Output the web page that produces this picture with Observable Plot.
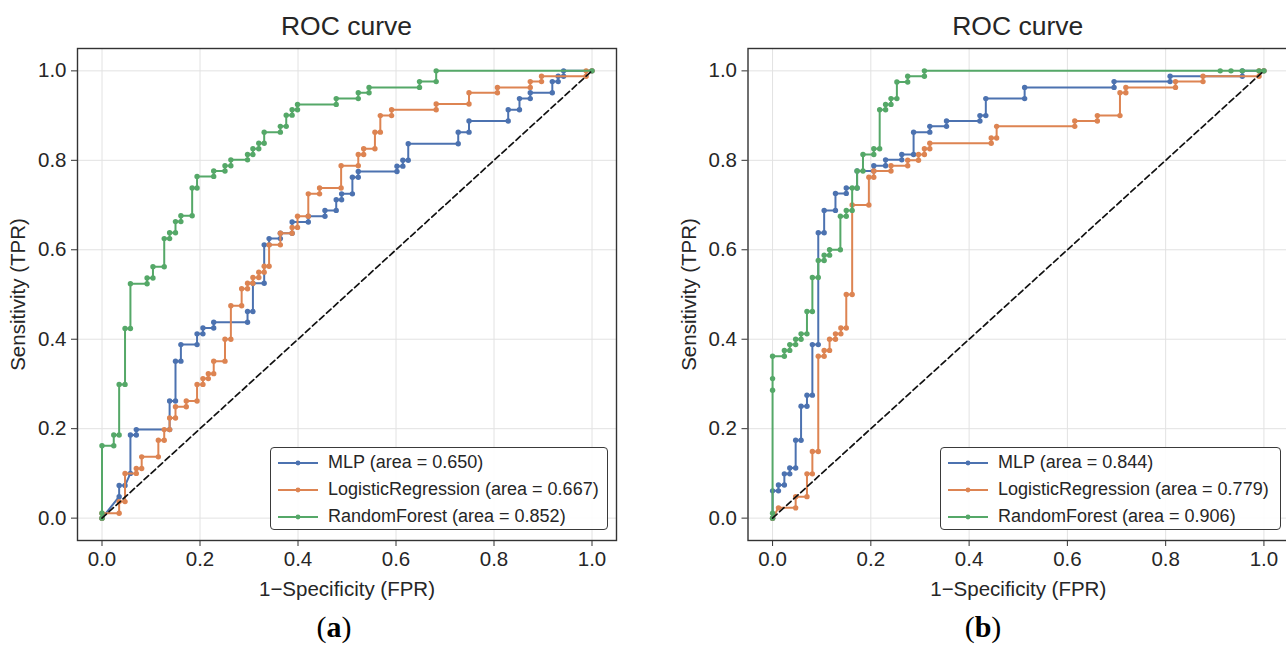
<!DOCTYPE html>
<html>
<head>
<meta charset="utf-8">
<script src="https://cdn.jsdelivr.net/npm/d3@7"></script>
<script src="https://cdn.jsdelivr.net/npm/@observablehq/plot@0.6"></script>
<style>
  html, body { margin: 0; padding: 0; background: #fff; overflow: hidden; }
  #root { position: relative; width: 1286px; height: 649px; overflow: hidden; font-family: "Liberation Sans", Arial, sans-serif; color: #262626; }
  .panel { position: absolute; top: 0; }
  .panel svg { max-width: none !important; }
  .title { position: absolute; top: 11px; font-size: 26.5px; text-align: center; width: 400px; color: #262626; }
  .caption { position: absolute; top: 610px; font-family: "Liberation Serif", "DejaVu Serif", serif; font-size: 30px; width: 100px; text-align: center; color: #000; }
  .caption b { font-weight: bold; }
  .legend { position: absolute; top: 447px; height: 81px; border: 1.5px solid #3a3a3a; border-radius: 4px; background: rgba(255,255,255,0.9); box-sizing: content-box; }
  .legend .row { position: absolute; left: 0; height: 27px; display: flex; align-items: center; font-size: 18px; white-space: nowrap; }
  .legend svg { margin-left: 7px; margin-right: 10px; }
</style>
</head>
<body>
<div id="root"></div>
<script>
// ---------- data ----------
const seriesNames = ["MLP", "LogisticRegression", "RandomForest"];
const seriesColors = ["#4C72B0", "#DD8452", "#55A868"];
const tickValues = [0, 0.2, 0.4, 0.6, 0.8, 1.0];
const chanceLine = [0, 1];
const panelTitles = ["ROC curve", "ROC curve"];
const panelCaptions = ["a", "b"];
const xLabel = "1\u2212Specificity (FPR)";
const yLabel = "Sensitivity (TPR)";
const aucA = ["0.650", "0.667", "0.852"];
const aucB = ["0.844", "0.779", "0.906"];

// Panel (a)
const mlpA_fpr = [0, 0.035, 0.035, 0.047, 0.058, 0.058, 0.070, 0.070, 0.138, 0.138, 0.150, 0.150, 0.161, 0.161, 0.194, 0.194, 0.206, 0.206, 0.228, 0.228, 0.297, 0.297, 0.308, 0.308, 0.331, 0.331, 0.341, 0.341, 0.364, 0.364, 0.388, 0.388, 0.421, 0.421, 0.455, 0.455, 0.478, 0.478, 0.489, 0.489, 0.511, 0.511, 0.523, 0.523, 0.602, 0.602, 0.614, 0.614, 0.625, 0.625, 0.727, 0.727, 0.749, 0.749, 0.829, 0.829, 0.852, 0.852, 0.874, 0.874, 0.919, 0.919, 0.931, 0.931, 0.942, 0.942, 1.0];
const mlpA_tpr = [0, 0.048, 0.073, 0.073, 0.100, 0.186, 0.186, 0.198, 0.198, 0.262, 0.262, 0.351, 0.351, 0.388, 0.388, 0.412, 0.412, 0.425, 0.425, 0.438, 0.438, 0.462, 0.462, 0.525, 0.525, 0.611, 0.611, 0.625, 0.625, 0.637, 0.637, 0.662, 0.662, 0.675, 0.675, 0.688, 0.688, 0.712, 0.712, 0.725, 0.725, 0.762, 0.762, 0.775, 0.775, 0.787, 0.787, 0.800, 0.800, 0.837, 0.837, 0.863, 0.863, 0.888, 0.888, 0.913, 0.913, 0.938, 0.938, 0.951, 0.951, 0.976, 0.976, 0.988, 0.988, 1.0, 1.0];

const lrA_fpr = [0, 0, 0.035, 0.035, 0.047, 0.047, 0.070, 0.070, 0.081, 0.081, 0.115, 0.115, 0.127, 0.127, 0.138, 0.138, 0.150, 0.150, 0.172, 0.172, 0.194, 0.194, 0.206, 0.206, 0.217, 0.217, 0.228, 0.228, 0.251, 0.251, 0.263, 0.263, 0.285, 0.285, 0.297, 0.297, 0.308, 0.308, 0.320, 0.320, 0.331, 0.331, 0.341, 0.341, 0.364, 0.364, 0.388, 0.388, 0.399, 0.399, 0.421, 0.421, 0.444, 0.444, 0.488, 0.488, 0.523, 0.523, 0.534, 0.534, 0.557, 0.557, 0.568, 0.568, 0.591, 0.591, 0.682, 0.682, 0.749, 0.749, 0.807, 0.807, 0.874, 0.874, 0.897, 0.897, 0.988, 0.988, 1.0];
const lrA_tpr = [0, 0.011, 0.011, 0.037, 0.037, 0.100, 0.100, 0.111, 0.111, 0.137, 0.137, 0.174, 0.174, 0.198, 0.198, 0.224, 0.224, 0.249, 0.249, 0.262, 0.262, 0.299, 0.299, 0.312, 0.312, 0.323, 0.323, 0.351, 0.351, 0.400, 0.400, 0.475, 0.475, 0.513, 0.513, 0.525, 0.525, 0.538, 0.538, 0.550, 0.550, 0.563, 0.563, 0.611, 0.611, 0.637, 0.637, 0.650, 0.650, 0.675, 0.675, 0.725, 0.725, 0.738, 0.738, 0.788, 0.788, 0.813, 0.813, 0.826, 0.826, 0.863, 0.863, 0.900, 0.900, 0.913, 0.913, 0.926, 0.926, 0.951, 0.951, 0.963, 0.963, 0.976, 0.976, 0.988, 0.988, 1.0, 1.0];

const rfA_fpr = [0, 0, 0, 0.024, 0.024, 0.035, 0.035, 0.047, 0.047, 0.058, 0.058, 0.092, 0.092, 0.104, 0.104, 0.127, 0.127, 0.138, 0.138, 0.150, 0.150, 0.161, 0.161, 0.184, 0.184, 0.194, 0.194, 0.228, 0.228, 0.251, 0.251, 0.263, 0.263, 0.297, 0.297, 0.308, 0.308, 0.320, 0.320, 0.331, 0.331, 0.364, 0.364, 0.376, 0.376, 0.388, 0.388, 0.399, 0.399, 0.478, 0.478, 0.523, 0.523, 0.545, 0.545, 0.648, 0.648, 0.682, 0.682, 1.0];
const rfA_tpr = [0, 0.011, 0.162, 0.162, 0.186, 0.186, 0.299, 0.299, 0.424, 0.424, 0.524, 0.524, 0.537, 0.537, 0.562, 0.562, 0.625, 0.625, 0.638, 0.638, 0.663, 0.663, 0.676, 0.676, 0.738, 0.738, 0.764, 0.764, 0.776, 0.776, 0.788, 0.788, 0.801, 0.801, 0.813, 0.813, 0.826, 0.826, 0.838, 0.838, 0.863, 0.863, 0.876, 0.876, 0.901, 0.901, 0.913, 0.913, 0.925, 0.925, 0.938, 0.938, 0.951, 0.951, 0.963, 0.963, 0.976, 0.976, 1.0, 1.0];

// Panel (b)
const mlpB_fpr = [0, 0, 0.012, 0.012, 0.024, 0.024, 0.035, 0.035, 0.047, 0.047, 0.058, 0.058, 0.070, 0.070, 0.081, 0.081, 0.093, 0.093, 0.105, 0.105, 0.128, 0.128, 0.150, 0.150, 0.172, 0.172, 0.206, 0.206, 0.230, 0.230, 0.263, 0.263, 0.287, 0.287, 0.320, 0.320, 0.354, 0.354, 0.422, 0.422, 0.434, 0.434, 0.513, 0.513, 0.695, 0.695, 0.809, 0.809, 0.956, 0.956, 1.0];
const mlpB_tpr = [0, 0.061, 0.061, 0.074, 0.074, 0.099, 0.099, 0.112, 0.112, 0.174, 0.174, 0.250, 0.250, 0.275, 0.275, 0.388, 0.388, 0.638, 0.638, 0.688, 0.688, 0.726, 0.726, 0.738, 0.738, 0.776, 0.776, 0.788, 0.788, 0.801, 0.801, 0.813, 0.813, 0.863, 0.863, 0.876, 0.876, 0.888, 0.888, 0.900, 0.900, 0.938, 0.938, 0.963, 0.963, 0.976, 0.976, 0.988, 0.988, 1.0, 1.0];

const lrB_fpr = [0, 0.012, 0.047, 0.047, 0.070, 0.070, 0.081, 0.081, 0.093, 0.093, 0.105, 0.105, 0.116, 0.116, 0.128, 0.128, 0.139, 0.139, 0.150, 0.150, 0.162, 0.162, 0.196, 0.196, 0.206, 0.206, 0.241, 0.241, 0.275, 0.275, 0.297, 0.297, 0.309, 0.309, 0.320, 0.320, 0.445, 0.445, 0.456, 0.456, 0.615, 0.615, 0.661, 0.661, 0.707, 0.707, 0.719, 0.719, 0.820, 0.820, 0.876, 0.876, 0.990, 0.990, 1.0];
const lrB_tpr = [0, 0.023, 0.023, 0.048, 0.048, 0.099, 0.099, 0.149, 0.149, 0.362, 0.362, 0.375, 0.375, 0.400, 0.400, 0.412, 0.412, 0.425, 0.425, 0.500, 0.500, 0.700, 0.700, 0.762, 0.762, 0.776, 0.776, 0.788, 0.788, 0.800, 0.800, 0.813, 0.813, 0.826, 0.826, 0.838, 0.838, 0.850, 0.850, 0.876, 0.876, 0.888, 0.888, 0.900, 0.900, 0.951, 0.951, 0.963, 0.963, 0.976, 0.976, 0.988, 0.988, 1.0, 1.0];

const rfB_fpr = [0, 0, 0, 0, 0, 0.024, 0.024, 0.035, 0.035, 0.047, 0.047, 0.058, 0.058, 0.070, 0.070, 0.081, 0.081, 0.093, 0.093, 0.105, 0.105, 0.116, 0.116, 0.138, 0.138, 0.150, 0.150, 0.162, 0.162, 0.172, 0.172, 0.184, 0.184, 0.206, 0.206, 0.218, 0.218, 0.230, 0.230, 0.241, 0.241, 0.253, 0.253, 0.275, 0.275, 0.309, 0.309, 0.911, 0.933, 0.956, 0.990, 1.0];
const rfB_tpr = [0, 0.011, 0.286, 0.312, 0.362, 0.362, 0.375, 0.375, 0.388, 0.388, 0.400, 0.400, 0.412, 0.412, 0.462, 0.462, 0.538, 0.538, 0.576, 0.576, 0.588, 0.588, 0.600, 0.600, 0.675, 0.675, 0.688, 0.688, 0.738, 0.738, 0.776, 0.776, 0.813, 0.813, 0.826, 0.826, 0.913, 0.913, 0.925, 0.925, 0.938, 0.938, 0.975, 0.975, 0.988, 0.988, 1.0, 1.0, 1.0, 1.0, 1.0, 1.0];

// ---------- build ----------
const zipSeries = (fpr, tpr) => fpr.map((f, i) => ({fpr: f, tpr: tpr[i]}));

const panels = [
  {left: 0, width: 640, marginLeft: 77, marginRight: 24, aucs: aucA,
   series: [zipSeries(mlpA_fpr, mlpA_tpr), zipSeries(lrA_fpr, lrA_tpr), zipSeries(rfA_fpr, rfA_tpr)],
   legendLeft: 270, legendWidth: 336, caption: panelCaptions[0], captionX: 334, title: panelTitles[0]},
  {left: 660, width: 630, marginLeft: 87.5, marginRight: 2, aucs: aucB,
   series: [zipSeries(mlpB_fpr, mlpB_tpr), zipSeries(lrB_fpr, lrB_tpr), zipSeries(rfB_fpr, rfB_tpr)],
   legendLeft: 940, legendWidth: 339, caption: panelCaptions[1], captionX: 983, title: panelTitles[1]}
];

const root = document.getElementById("root");
const fmt = d3.format(".1f");

panels.forEach(p => {
  const marks = [
    Plot.gridX(tickValues, {stroke: "#e2e2e2", strokeOpacity: 1, strokeWidth: 1}),
    Plot.gridY(tickValues, {stroke: "#e2e2e2", strokeOpacity: 1, strokeWidth: 1}),
    Plot.axisX(tickValues, {tickFormat: fmt, tickSize: 6, tickPadding: 5, stroke: "#333", fontSize: 20.5,
      label: xLabel, labelAnchor: "center", labelArrow: "none", labelOffset: 55}),
    Plot.axisY(tickValues, {tickFormat: fmt, tickSize: 6, tickPadding: 5, stroke: "#333", fontSize: 20.5,
      label: yLabel, labelAnchor: "center", labelArrow: "none", labelOffset: 67})
  ];
  p.series.forEach((data, i) => {
    marks.push(Plot.line(data, {x: "fpr", y: "tpr", stroke: seriesColors[i], strokeWidth: 2}));
    marks.push(Plot.dot(data, {x: "fpr", y: "tpr", fill: seriesColors[i], r: 2.7}));
  });
  marks.push(Plot.line(chanceLine, {x: d => d, y: d => d, stroke: "#111", strokeWidth: 1.7, strokeDasharray: "6,3.5"}));
  marks.push(Plot.frame({stroke: "#333", strokeWidth: 1.4}));

  const chart = Plot.plot({
    width: p.width, height: 600,
    marginLeft: p.marginLeft, marginRight: p.marginRight, marginTop: 48, marginBottom: 60,
    x: {domain: [-0.05, 1.05]},
    y: {domain: [-0.05, 1.05]},
    style: {fontFamily: "'Liberation Sans', Arial, sans-serif", fontSize: "20.5px", color: "#262626", background: "transparent", overflow: "visible", maxWidth: "none"},
    marks
  });
  const wrap = document.createElement("div");
  wrap.className = "panel";
  wrap.style.left = p.left + "px";
  wrap.style.width = p.width + "px";
  wrap.style.height = "600px";
  wrap.appendChild(chart);
  root.appendChild(wrap);

  // title
  const frameCenter = p.left + p.marginLeft + (p.width - p.marginLeft - p.marginRight) / 2;
  const t = document.createElement("div");
  t.className = "title";
  t.style.left = (frameCenter - 200) + "px";
  t.textContent = p.title;
  root.appendChild(t);

  // legend
  const lg = document.createElement("div");
  lg.className = "legend";
  lg.style.left = p.legendLeft + "px";
  lg.style.width = p.legendWidth + "px";
  seriesNames.forEach((name, i) => {
    const row = document.createElement("div");
    row.className = "row";
    row.style.top = (1 + i * 27) + "px";
    const sw = d3.create("svg").attr("width", 40).attr("height", 10);
    sw.append("line").attr("x1", 0).attr("x2", 40).attr("y1", 5).attr("y2", 5).attr("stroke", seriesColors[i]).attr("stroke-width", 1.8);
    sw.append("circle").attr("cx", 20).attr("cy", 5).attr("r", 2.4).attr("fill", seriesColors[i]);
    row.appendChild(sw.node());
    const tx = document.createElement("span");
    tx.textContent = `${name} (area = ${p.aucs[i]})`;
    row.appendChild(tx);
    lg.appendChild(row);
  });
  root.appendChild(lg);

  // caption
  const c = document.createElement("div");
  c.className = "caption";
  c.style.left = (p.captionX - 50) + "px";
  c.innerHTML = `(<b>${p.caption}</b>)`;
  root.appendChild(c);
});
</script>
</body>
</html>
